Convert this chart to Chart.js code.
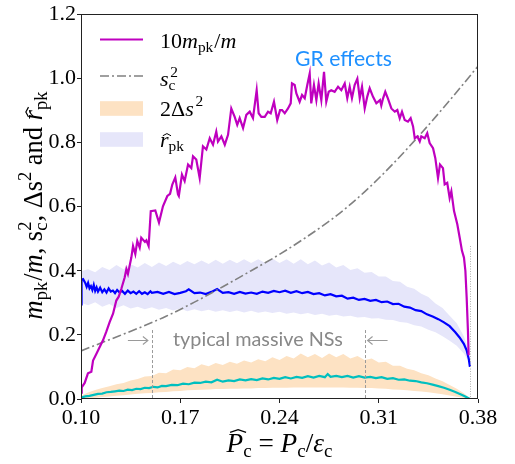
<!DOCTYPE html>
<html><head><meta charset="utf-8">
<script src="https://cdn.jsdelivr.net/npm/chart.js@4.4.0/dist/chart.umd.min.js"></script>
<style>html,body{margin:0;padding:0;background:#fff}#wrap{width:515px;height:464px;position:relative}</style>
</head><body><div id="wrap"><canvas id="c"></canvas></div>
<script>
// ---------- data ----------
const xTicks = [0.10, 0.17, 0.24, 0.31, 0.38];
const yTicks = [0.0, 0.2, 0.4, 0.6, 0.8, 1.0, 1.2];

// 10 m_pk / m  (magenta)
const magX = [0.1000,0.1005,0.1026,0.1049,0.1073,0.1085,0.1108,0.1132,0.1155,0.1178,0.1202,0.1226,0.1249,0.1266,0.1284,0.1308,0.1320,0.1331,0.1355,0.1367,0.1383,0.1397,0.1414,0.1425,0.1451,0.1461,0.1477,0.1492,0.1524,0.1550,0.1578,0.1609,0.1628,0.1644,0.1665,0.1684,0.1690,0.1712,0.1731,0.1755,0.1778,0.1790,0.1813,0.1837,0.1860,0.1884,0.1908,0.1931,0.1954,0.1966,0.1990,0.2014,0.2037,0.2060,0.2084,0.2102,0.2119,0.2143,0.2166,0.2190,0.2213,0.2239,0.2253,0.2272,0.2296,0.2319,0.2338,0.2361,0.2384,0.2404,0.2418,0.2437,0.2460,0.2479,0.2488,0.2507,0.2519,0.2542,0.2559,0.2578,0.2596,0.2613,0.2624,0.2643,0.2660,0.2676,0.2695,0.2714,0.2730,0.2747,0.2765,0.2789,0.2813,0.2836,0.2860,0.2878,0.2895,0.2911,0.2930,0.2949,0.2966,0.2982,0.3001,0.3019,0.3036,0.3059,0.3083,0.3109,0.3118,0.3130,0.3146,0.3165,0.3189,0.3213,0.3231,0.3248,0.3264,0.3283,0.3306,0.3325,0.3342,0.3354,0.3372,0.3389,0.3400,0.3424,0.3442,0.3459,0.3483,0.3499,0.3518,0.3532,0.3553,0.3565,0.3583,0.3600,0.3612,0.3631,0.3654,0.3671,0.3687,0.3701,0.3711,0.3720,0.3729,0.3734];
const magY = [0.020,0.036,0.050,0.080,0.085,0.120,0.140,0.162,0.183,0.209,0.240,0.266,0.307,0.319,0.343,0.379,0.405,0.390,0.441,0.477,0.452,0.493,0.472,0.503,0.490,0.495,0.477,0.586,0.588,0.550,0.601,0.633,0.640,0.669,0.691,0.638,0.633,0.700,0.680,0.731,0.720,0.757,0.747,0.689,0.788,0.778,0.813,0.793,0.834,0.803,0.819,0.793,0.824,0.906,0.880,0.855,0.876,0.845,0.886,0.896,0.876,0.963,0.891,0.880,0.880,0.896,0.891,0.927,0.870,0.901,0.901,0.891,0.906,0.922,0.984,0.979,0.953,0.927,0.948,0.938,0.979,1.015,0.922,0.979,0.932,0.984,0.932,1.020,0.927,0.958,0.963,0.958,0.974,0.963,0.984,0.938,0.974,0.938,0.979,0.999,0.938,0.974,0.906,0.943,0.969,0.943,0.922,0.932,0.915,0.937,0.958,0.937,0.906,0.896,0.901,0.875,0.896,0.870,0.865,0.876,0.850,0.813,0.819,0.803,0.819,0.813,0.829,0.798,0.782,0.751,0.689,0.731,0.720,0.669,0.674,0.627,0.648,0.586,0.545,0.503,0.462,0.441,0.400,0.317,0.214,0.136];

// s_c^2 (gray dash-dot)
const scX = [0.10,0.12,0.14,0.16,0.18,0.20,0.22,0.24,0.26,0.28,0.30,0.32,0.34,0.36,0.38];
const scY = [0.150,0.185,0.220,0.258,0.302,0.350,0.400,0.451,0.508,0.571,0.646,0.733,0.829,0.931,1.038];

// r_pk (blue line)
const rX = [0.1000,0.1004,0.1015,0.1030,0.1040,0.1050,0.1060,0.1070,0.1080,0.1090,0.1100,0.1110,0.1120,0.1135,0.1150,0.1165,0.1180,0.1195,0.1210,0.1225,0.1240,0.1255,0.1270,0.1290,0.1310,0.1330,0.1350,0.1370,0.1390,0.1410,0.1430,0.1450,0.1470,0.1490,0.150,0.154,0.158,0.162,0.166,0.170,0.174,0.176,0.180,0.184,0.188,0.192,0.196,0.200,0.204,0.208,0.212,0.216,0.220,0.224,0.228,0.232,0.236,0.240,0.244,0.248,0.252,0.256,0.260,0.264,0.268,0.272,0.276,0.280,0.284,0.288,0.292,0.296,0.300,0.304,0.308,0.312,0.316,0.320,0.324,0.328,0.332,0.336,0.340,0.344,0.348,0.352,0.356,0.360,0.364,0.367,0.370,0.3720,0.3735,0.3743];
const rY = [0.295,0.372,0.374,0.362,0.350,0.362,0.345,0.352,0.340,0.356,0.337,0.348,0.335,0.347,0.333,0.342,0.332,0.345,0.335,0.338,0.330,0.340,0.333,0.337,0.328,0.338,0.330,0.335,0.328,0.336,0.328,0.333,0.327,0.336,0.331,0.334,0.328,0.334,0.327,0.331,0.336,0.342,0.330,0.332,0.327,0.334,0.343,0.331,0.333,0.328,0.334,0.329,0.332,0.328,0.335,0.331,0.337,0.333,0.338,0.331,0.336,0.330,0.334,0.327,0.330,0.323,0.327,0.320,0.322,0.313,0.316,0.309,0.312,0.306,0.309,0.302,0.304,0.296,0.297,0.288,0.285,0.277,0.274,0.264,0.257,0.249,0.239,0.227,0.208,0.192,0.172,0.152,0.125,0.100];

// r_pk band (lavender)
const rBandX = [0.100,0.105,0.110,0.115,0.120,0.125,0.130,0.135,0.140,0.145,0.150,0.155,0.160,0.165,0.170,0.175,0.180,0.185,0.190,0.195,0.200,0.205,0.210,0.215,0.220,0.225,0.230,0.235,0.240,0.245,0.250,0.255,0.260,0.265,0.270,0.275,0.280,0.285,0.290,0.295,0.300,0.305,0.310,0.315,0.320,0.325,0.330,0.335,0.340,0.345,0.350,0.355,0.360,0.365,0.370,0.3725,0.3743];
const rLo = [0.300,0.292,0.302,0.288,0.296,0.284,0.292,0.282,0.288,0.280,0.286,0.278,0.284,0.276,0.282,0.274,0.280,0.274,0.278,0.272,0.277,0.271,0.276,0.270,0.275,0.269,0.273,0.268,0.272,0.266,0.270,0.264,0.268,0.262,0.266,0.260,0.263,0.257,0.260,0.254,0.256,0.251,0.252,0.247,0.246,0.240,0.238,0.230,0.226,0.216,0.208,0.196,0.182,0.166,0.142,0.124,0.100];
const rHi = [0.398,0.405,0.395,0.412,0.402,0.418,0.405,0.420,0.410,0.424,0.412,0.426,0.415,0.428,0.418,0.430,0.420,0.432,0.421,0.434,0.422,0.434,0.423,0.436,0.424,0.436,0.424,0.438,0.424,0.436,0.422,0.436,0.420,0.432,0.416,0.426,0.410,0.418,0.402,0.408,0.394,0.396,0.382,0.382,0.368,0.366,0.350,0.344,0.328,0.318,0.298,0.284,0.260,0.236,0.196,0.164,0.120];

// Delta s^2 (cyan line)
const dX = [0.1000,0.1030,0.1060,0.1090,0.1120,0.1150,0.1180,0.1210,0.1240,0.1270,0.1300,0.1330,0.1360,0.1390,0.1420,0.1450,0.1480,0.1510,0.1540,0.1570,0.1600,0.1640,0.1680,0.1720,0.1760,0.1800,0.1840,0.1880,0.1920,0.1960,0.2000,0.2040,0.2080,0.2120,0.2160,0.2200,0.2240,0.2280,0.2320,0.2360,0.2400,0.2440,0.2480,0.2520,0.2560,0.2600,0.2640,0.2680,0.2720,0.2740,0.2760,0.2800,0.2840,0.2880,0.2920,0.2960,0.3000,0.3040,0.3080,0.3120,0.3160,0.3200,0.3240,0.3280,0.3320,0.3360,0.3400,0.3440,0.3480,0.3520,0.3560,0.3600,0.3640,0.3680,0.3710,0.3743];
const dY = [0.004,0.008,0.010,0.013,0.016,0.017,0.021,0.022,0.024,0.026,0.025,0.029,0.028,0.032,0.031,0.035,0.034,0.038,0.036,0.041,0.040,0.044,0.043,0.048,0.046,0.051,0.050,0.054,0.052,0.060,0.054,0.058,0.056,0.061,0.058,0.062,0.059,0.064,0.061,0.066,0.063,0.068,0.064,0.069,0.066,0.071,0.067,0.072,0.068,0.078,0.069,0.072,0.068,0.072,0.067,0.071,0.067,0.069,0.065,0.068,0.063,0.065,0.060,0.061,0.057,0.056,0.052,0.049,0.045,0.040,0.035,0.029,0.022,0.014,0.008,0.000];

// 2 Delta s^2 band (orange)
const dBandX = [0.100,0.105,0.110,0.115,0.120,0.125,0.130,0.135,0.140,0.145,0.150,0.155,0.160,0.165,0.170,0.175,0.180,0.185,0.190,0.195,0.200,0.205,0.210,0.215,0.220,0.225,0.230,0.235,0.240,0.245,0.250,0.255,0.260,0.265,0.270,0.275,0.280,0.285,0.290,0.295,0.300,0.305,0.310,0.315,0.320,0.325,0.330,0.335,0.340,0.345,0.350,0.355,0.360,0.365,0.370,0.3743];
const dLo = [0.000,0.002,0.004,0.006,0.008,0.010,0.012,0.014,0.016,0.018,0.019,0.021,0.022,0.024,0.025,0.027,0.028,0.029,0.030,0.031,0.031,0.032,0.032,0.033,0.033,0.034,0.034,0.035,0.035,0.035,0.036,0.036,0.036,0.036,0.036,0.036,0.036,0.036,0.035,0.035,0.034,0.034,0.033,0.032,0.030,0.029,0.027,0.025,0.023,0.021,0.018,0.015,0.011,0.007,0.003,0.000];
const dHi = [0.010,0.020,0.028,0.034,0.040,0.046,0.050,0.058,0.062,0.070,0.072,0.082,0.080,0.092,0.090,0.100,0.096,0.108,0.102,0.112,0.106,0.116,0.110,0.120,0.114,0.124,0.118,0.130,0.122,0.134,0.126,0.142,0.130,0.140,0.128,0.142,0.130,0.140,0.126,0.134,0.122,0.126,0.114,0.116,0.104,0.104,0.094,0.090,0.080,0.074,0.064,0.055,0.044,0.032,0.018,0.002];

// annotation positions (data units)
const nsRange = [0.15, 0.30];
const nsLineTop = 0.215;
const maxPc = 0.3745;
const maxPcTop = 0.477;

// ---------- helpers ----------
const pts = (xs, ys) => xs.map((x, i) => ({x: x, y: ys[i]}));
const SERIF = '"Liberation Serif","DejaVu Serif",serif';
const SANS = 'Lato,"Open Sans","DejaVu Sans",sans-serif';

function runs(ctx, list, x0, y0, size, draw) {
  let x = x0;
  const ss = size * 0.7;
  for (const r of list) {
    ctx.font = (r.i ? 'italic ' : '') + size + 'px ' + SERIF;
    const w = ctx.measureText(r.t).width;
    if (draw) ctx.fillText(r.t, x, y0);
    if (r.hat && draw) {
      const top = r.hat === 'cap' ? y0 - size * 0.66 - size * 0.16 : y0 - size * 0.45 - size * 0.16;
      const sk = r.i ? size * 0.12 : 0;
      const l = x + sk + w * 0.02, rr = x + sk + w * 0.98;
      ctx.save();
      ctx.lineWidth = Math.max(0.8, size * 0.045);
      ctx.strokeStyle = ctx.fillStyle;
      ctx.beginPath();
      ctx.moveTo(l, top + size * 0.1);
      ctx.lineTo((l + rr) / 2, top);
      ctx.lineTo(rr, top + size * 0.1);
      ctx.stroke();
      ctx.restore();
    }
    x += w;
    let ws = 0;
    ctx.font = ss + 'px ' + SERIF;
    if (r.sub) {
      const w2 = ctx.measureText(r.sub).width;
      if (draw) ctx.fillText(r.sub, x, y0 + size * 0.2);
      ws = w2;
    }
    if (r.sup) {
      const off = r.i ? size * 0.08 : 0;
      const w3 = ctx.measureText(r.sup).width;
      if (draw) ctx.fillText(r.sup, x + off, y0 - size * 0.42);
      ws = Math.max(ws, w3 + off);
    }
    x += ws + (r.sp || 0);
  }
  return x - x0;
}

const legendItems = [
  {kind: 'line', color: '#BF00BF', dash: [], y: 39.5, base: 48,
   text: [{t: '10'}, {t: 'm', i: 1, sub: 'pk', sp: 1}, {t: '/'}, {t: 'm', i: 1}]},
  {kind: 'line', color: '#808080', dash: [9, 3, 2, 3], y: 76, base: 86,
   text: [{t: 's', i: 1, sub: 'c', sup: '2'}]},
  {kind: 'box', color: '#FDE2C3', y: 108.5, base: 115.5,
   text: [{t: '2Δ'}, {t: 's', i: 1, sup: '2'}]},
  {kind: 'box', color: '#E6E6FA', y: 139.5, base: 147,
   text: [{t: 'r', i: 1, hat: 'x', sub: 'pk'}]}
];

const xTitle = [{t: 'P', i: 1, hat: 'cap', sub: 'c'}, {t: ' = '}, {t: 'P', i: 1, sub: 'c'}, {t: '/'}, {t: 'ε', i: 1, sub: 'c'}];
const yTitle = [{t: 'm', i: 1, sub: 'pk', sp: 1}, {t: '/'}, {t: 'm', i: 1}, {t: ', '}, {t: 's', sub: 'c', sup: '2'}, {t: ', Δs', sup: '2'}, {t: ' and '}, {t: 'r', i: 1, hat: 'x', sub: 'pk'}];

function fitSize(ctx, list, target, base) {
  const w = runs(ctx, list, 0, 0, base, false);
  return base * target / w;
}

function fitSans(ctx, text, target, base) {
  ctx.font = base + 'px ' + SANS;
  return base * target / ctx.measureText(text).width;
}

function arrow(ctx, x1, x2, y) {
  const dir = Math.sign(x2 - x1);
  ctx.beginPath();
  ctx.moveTo(x1, y); ctx.lineTo(x2, y);
  ctx.moveTo(x2 - dir * 5, y - 4); ctx.lineTo(x2, y); ctx.lineTo(x2 - dir * 5, y + 4);
  ctx.stroke();
}

const deco = {
  id: 'deco',
  afterDatasetsDraw(chart) {
    const {ctx, chartArea: a, scales: {x, y}} = chart;
    ctx.save();
    // typical massive NSs markers
    ctx.strokeStyle = '#9a9a9a';
    ctx.lineWidth = 1;
    ctx.setLineDash([3, 2]);
    for (const v of nsRange) {
      const px = Math.round(x.getPixelForValue(v)) + 0.5;
      ctx.beginPath();
      ctx.moveTo(px, y.getPixelForValue(nsLineTop));
      ctx.lineTo(px, y.getPixelForValue(0));
      ctx.stroke();
    }
    ctx.strokeStyle = '#b0b0b0';
    ctx.setLineDash([1, 1.5]);
    const pm = Math.round(x.getPixelForValue(maxPc)) + 0.5;
    ctx.beginPath();
    ctx.moveTo(pm, y.getPixelForValue(maxPcTop));
    ctx.lineTo(pm, y.getPixelForValue(0));
    ctx.stroke();
    ctx.setLineDash([]);
    ctx.strokeStyle = '#9a9a9a';
    ctx.lineWidth = 1.1;
    const xl = x.getPixelForValue(nsRange[0]), xr = x.getPixelForValue(nsRange[1]);
    arrow(ctx, xl - 24, xl - 4, 340.5);
    arrow(ctx, xr + 23, xr + 3, 340.5);
    ctx.fillStyle = '#888888';
    ctx.textAlign = 'left';
    ctx.textBaseline = 'alphabetic';
    const nsText = 'typical massive NSs';
    const nsSize = fitSans(ctx, nsText, 170, 18);
    ctx.font = nsSize + 'px ' + SANS;
    ctx.fillText(nsText, 173, 346);
    ctx.fillStyle = '#1E90FF';
    const grText = 'GR effects';
    const grSize = fitSans(ctx, grText, 97, 22);
    ctx.font = grSize + 'px ' + SANS;
    ctx.fillText(grText, 295, 66);
    ctx.restore();
  },
  afterDraw(chart) {
    const {ctx, chartArea: a} = chart;
    ctx.save();
    // frame
    ctx.strokeStyle = '#222';
    ctx.lineWidth = 1;
    ctx.strokeRect(Math.round(a.left) + 0.5, Math.round(a.top) + 0.5, Math.round(a.right - a.left) - 1, Math.round(a.bottom - a.top) - 1);
    // legend
    ctx.textAlign = 'left';
    ctx.textBaseline = 'alphabetic';
    for (const it of legendItems) {
      if (it.kind === 'line') {
        ctx.strokeStyle = it.color;
        ctx.lineWidth = it.dash.length ? 1.6 : 2.2;
        ctx.setLineDash(it.dash);
        ctx.beginPath();
        ctx.moveTo(100, it.y); ctx.lineTo(143, it.y);
        ctx.stroke();
        ctx.setLineDash([]);
      } else {
        ctx.fillStyle = it.color;
        ctx.fillRect(100, it.y - 7.3, 43, 14.6);
      }
      ctx.fillStyle = '#000';
      runs(ctx, it.text, 160, it.base, 22, true);
    }
    // x title
    ctx.fillStyle = '#000';
    const xs = fitSize(ctx, xTitle, 106, 24);
    const xw = runs(ctx, xTitle, 0, 0, xs, false);
    runs(ctx, xTitle, 279.5 - xw / 2, 452, xs, true);
    // y title
    const ys = fitSize(ctx, yTitle, 228, 24);
    const yw = runs(ctx, yTitle, 0, 0, ys, false);
    ctx.translate(42, 205.5);
    ctx.rotate(-Math.PI / 2);
    runs(ctx, yTitle, -yw / 2, 0, ys, true);
    ctx.restore();
  }
};

const tickFont = {family: SERIF, size: 22};

new Chart(document.getElementById('c'), {
  type: 'line',
  data: {
    datasets: [
      {label: '10 m_pk/m', data: pts(magX, magY), borderColor: '#BF00BF', borderWidth: 2.2, pointRadius: 0, fill: false},
      {label: 's_c^2', data: pts(scX, scY), borderColor: '#808080', borderWidth: 1.6, borderDash: [9, 3, 2, 3], pointRadius: 0, cubicInterpolationMode: 'monotone', fill: false},
      {label: 'r_pk', data: pts(rX, rY), borderColor: '#0000FF', borderWidth: 2.2, pointRadius: 0, fill: false},
      {label: 'Delta s^2', data: pts(dX, dY), borderColor: '#00BFBF', borderWidth: 2.2, pointRadius: 0, fill: false},
      {label: 'r_pk low', data: pts(rBandX, rLo), borderWidth: 0, borderColor: 'rgba(0,0,0,0)', pointRadius: 0, fill: false},
      {label: 'r_pk band', data: pts(rBandX, rHi), borderWidth: 0, borderColor: 'rgba(0,0,0,0)', pointRadius: 0, fill: '-1', backgroundColor: '#E6E6FA'},
      {label: '2Ds2 low', data: pts(dBandX, dLo), borderWidth: 0, borderColor: 'rgba(0,0,0,0)', pointRadius: 0, fill: false},
      {label: '2Ds2 band', data: pts(dBandX, dHi), borderWidth: 0, borderColor: 'rgba(0,0,0,0)', pointRadius: 0, fill: '-1', backgroundColor: '#FDE2C3'}
    ]
  },
  options: {
    responsive: true,
    maintainAspectRatio: false,
    devicePixelRatio: 1,
    animation: false,
    layout: {padding: {left: 0, right: 37, top: 12, bottom: 0}},
    plugins: {legend: {display: false}, tooltip: {enabled: false}},
    scales: {
      x: {
        type: 'linear', min: 0.10, max: 0.38,
        afterBuildTicks: s => { s.ticks = xTicks.map(v => ({value: v})); },
        afterFit: s => { s.height = 65; },
        ticks: {font: tickFont, color: '#000', padding: 2, maxRotation: 0, autoSkip: false, callback: v => v.toFixed(2)},
        grid: {display: true, drawOnChartArea: false, drawTicks: true, tickLength: 4, tickColor: '#222'},
        border: {display: false}
      },
      y: {
        type: 'linear', min: 0, max: 1.2,
        afterBuildTicks: s => { s.ticks = yTicks.map(v => ({value: v})); },
        afterFit: s => { s.width = 81; },
        ticks: {font: tickFont, color: '#000', padding: 1, autoSkip: false, callback: v => v.toFixed(1)},
        grid: {display: true, drawOnChartArea: false, drawTicks: true, tickLength: 4, tickColor: '#222'},
        border: {display: false}
      }
    }
  },
  plugins: [deco]
});
</script>
</body></html>
